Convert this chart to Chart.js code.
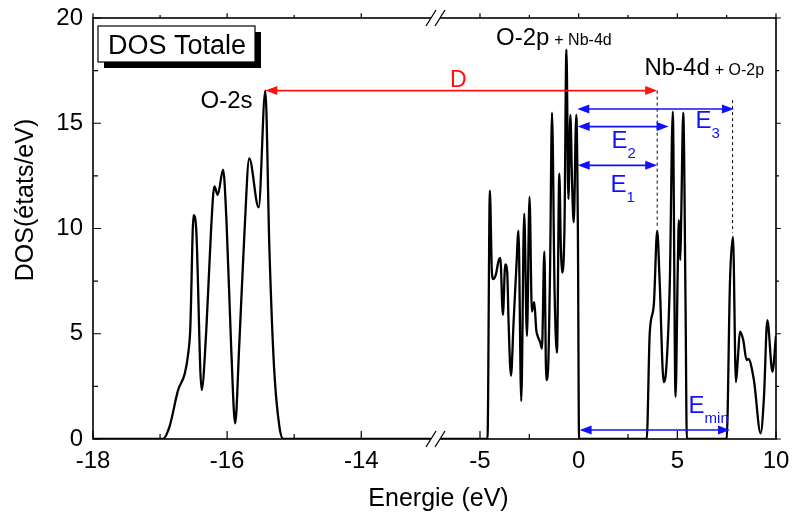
<!DOCTYPE html>
<html>
<head>
<meta charset="utf-8">
<script src="https://cdn.jsdelivr.net/npm/chart.js@4.4.0/dist/chart.umd.min.js"></script>
<style>
  html, body { margin: 0; padding: 0; background: #fff; }
  canvas { display: block; }
</style>
</head>
<body>
<canvas id="myChart" width="792" height="520"></canvas>
<script>
// O-2s band, left part of the broken energy axis
const energyLow = [-18, -16.96, -16.86, -16.73, -16.63, -16.58, -16.55, -16.5, -16.46, -16.38, -16.31, -16.24,
  -16.19, -16.14, -16.06, -16.01, -15.94, -15.88, -15.82, -15.74, -15.67, -15.53, -15.43, -15.37, -15.3, -15.22,
  -15.16, -12.9];
const dosLow = [0, 0, 0.58, 2.33, 3.12, 4.07, 5.2, 10.64, 9.9, 2.33, 5.2, 9.9,
  12.0, 11.6, 12.8, 10.4, 4.4, 0.74, 4.4, 9.9, 13.33, 11.0, 16.55, 9.1, 3.4, 0.58,
  0, 0];

// valence band (O-2p) and conduction bands (Nb-4d), right part
const energyHigh = [-7.28, -4.62, -4.5, -4.4, -4.33, -4.2, -4.05, -3.97, -3.84, -3.72, -3.62, -3.55, -3.43,
  -3.3, -3.15, -3.05, -2.91, -2.76, -2.62, -2.49, -2.37, -2.25, -2.15, -2.08, -1.95, -1.86, -1.74, -1.64,
  -1.55, -1.45, -1.35, -1.22, -1.1, -0.98, -0.9, -0.84, -0.72, -0.62, -0.52, -0.42, -0.33, -0.25, -0.12,
  -0.04, 0.02, 3.45, 3.6, 3.81, 3.98, 4.1, 4.31, 4.45, 4.62, 4.77, 4.91, 5.02, 5.08, 5.15, 5.2, 5.3, 5.42,
  5.48, 7.5, 7.67, 7.82, 7.97, 8.08, 8.17, 8.34, 8.51, 8.6, 8.88, 9.22, 9.39, 9.56, 9.82, 10];
const dosHigh = [0, 0, 11.8, 8.0, 7.6, 7.8, 8.5, 8.6, 5.9, 8.3, 7.9, 5.5, 3.0,
  5.5, 8.3, 9.9, 1.8, 10.7, 4.9, 11.5, 6.05, 6.5, 5.2, 4.9, 4.6, 4.3, 8.9, 2.8,
  3.3, 8.0, 15.5, 7.0, 4.1, 12.6, 9.0, 7.9, 10.0, 18.5, 11.4, 15.4, 12.0, 10.3, 15.4,
  10.0, 0, 0, 5.0, 6.4, 9.9, 7.6, 2.7, 3.5, 7.5, 15.55, 2.0, 8.0, 10.4, 8.5, 10.7, 15.5, 6.0,
  0, 0, 7.55, 9.6, 2.7, 4.0, 5.1, 4.7, 3.75, 3.8, 2.8, 0.27, 2.0, 5.65, 3.2, 4.9];

const ticksLow = [-18, -16, -14];
const ticksHigh = [-5, 0, 5, 10];
const ticksDos = [0, 5, 10, 15, 20];
const minorLow = [-17, -15];
const minorHigh = [-2.5, 2.5, 7.5];
const minorDos = [2.5, 7.5, 12.5, 17.5];

const FONT = "'Liberation Sans', Arial, sans-serif";
const BLUE = '#1010ff';
const RED = '#ff1010';

const toPoints = (xs, ys) => xs.map((x, i) => ({ x: x, y: ys[i] }));

const overlay = {
  id: 'overlay',
  afterDraw(chart) {
    const { ctx, chartArea: a, scales } = chart;
    const xl = scales.xl, xr = scales.xr, sy = scales.y;
    const L = v => xl.getPixelForValue(v);
    const R = v => xr.getPixelForValue(v);
    const Y = v => sy.getPixelForValue(v);
    ctx.save();

    // frame
    ctx.strokeStyle = '#000';
    ctx.lineWidth = 1.6;
    ctx.strokeRect(a.left, a.top, a.right - a.left, a.bottom - a.top);

    // ticks: inside on bottom/left, outside on top/right
    ctx.lineWidth = 1.2;
    ctx.beginPath();
    const xTick = (px, len) => {
      ctx.moveTo(px, a.bottom); ctx.lineTo(px, a.bottom - len);
      ctx.moveTo(px, a.top); ctx.lineTo(px, a.top - len * 0.6);
    };
    ticksLow.forEach(v => xTick(L(v), 8));
    minorLow.forEach(v => xTick(L(v), 5));
    ticksHigh.forEach(v => xTick(R(v), 8));
    minorHigh.forEach(v => xTick(R(v), 5));
    const yTick = (py, len) => {
      ctx.moveTo(a.left, py); ctx.lineTo(a.left + len, py);
      ctx.moveTo(a.right, py); ctx.lineTo(a.right + len * 0.6, py);
    };
    ticksDos.forEach(v => yTick(Y(v), 8));
    minorDos.forEach(v => yTick(Y(v), 5));
    ctx.stroke();

    // axis break marks
    const bx = xl.right;
    [a.top, a.bottom].forEach(yy => {
      ctx.fillStyle = '#fff';
      ctx.fillRect(bx - 4, yy - 3, 9, 6);
      ctx.strokeStyle = '#000';
      ctx.lineWidth = 1.3;
      ctx.beginPath();
      [bx - 4, bx + 5].forEach(c => { ctx.moveTo(c - 5, yy + 8); ctx.lineTo(c + 5, yy - 8); });
      ctx.stroke();
    });

    // legend box with shadow
    const bxl = a.left + 5, byt = a.top + 8;
    ctx.fillStyle = '#000';
    ctx.fillRect(bxl + 6, byt + 6, 157, 36);
    ctx.fillStyle = '#fff';
    ctx.fillRect(bxl, byt, 157, 36);
    ctx.lineWidth = 1.2;
    ctx.strokeRect(bxl, byt, 157, 36);
    ctx.fillStyle = '#000';
    ctx.font = '27px ' + FONT;
    ctx.textAlign = 'center';
    ctx.textBaseline = 'alphabetic';
    ctx.fillText('DOS Totale', bxl + 79, byt + 28);

    // arrows
    const head = (x, yy, dir) => {
      ctx.beginPath();
      ctx.moveTo(x, yy);
      ctx.lineTo(x - dir * 12, yy - 4.5);
      ctx.lineTo(x - dir * 12, yy + 4.5);
      ctx.closePath();
      ctx.fill();
    };
    const arrow = (x1, x2, yy, color) => {
      ctx.strokeStyle = color; ctx.fillStyle = color; ctx.lineWidth = 1.6;
      ctx.beginPath(); ctx.moveTo(x1 + 4, yy); ctx.lineTo(x2 - 4, yy); ctx.stroke();
      head(x1, yy, -1); head(x2, yy, 1);
    };

    // dashed guides
    ctx.strokeStyle = '#000';
    ctx.lineWidth = 1;
    ctx.setLineDash([3, 3]);
    ctx.beginPath();
    ctx.moveTo(R(3.98), Y(16.55)); ctx.lineTo(R(3.98), Y(10.1));
    ctx.moveTo(R(7.8), Y(16.1)); ctx.lineTo(R(7.8), Y(9.8));
    ctx.stroke();
    ctx.setLineDash([]);

    arrow(L(-15.43), R(3.98), Y(16.55), RED);
    arrow(R(-0.07), R(7.87), Y(15.68), BLUE);
    arrow(R(-0.05), R(4.56), Y(14.84), BLUE);
    arrow(R(-0.05), R(3.98), Y(13.0), BLUE);
    arrow(R(0.05), R(7.67), Y(0.43), BLUE);

    // texts
    const sub = (main, small, x, yy, color) => {
      ctx.fillStyle = color;
      ctx.textAlign = 'left';
      ctx.font = '24px ' + FONT;
      ctx.fillText(main, x, yy);
      const w = ctx.measureText(main).width;
      ctx.font = '15px ' + FONT;
      ctx.fillText(small, x + w, yy + 10);
    };
    sub('E', '1', R(1.61), Y(11.73), BLUE);
    sub('E', '2', R(1.66), Y(13.82), BLUE);
    sub('E', '3', R(5.92), Y(14.77), BLUE);
    sub('E', 'min', R(5.57), Y(1.24), BLUE);

    ctx.fillStyle = RED;
    ctx.font = '23px ' + FONT;
    ctx.textAlign = 'center';
    ctx.fillText('D', R(-6.1), Y(16.72));

    ctx.fillStyle = '#000';
    ctx.font = '24px ' + FONT;
    ctx.textAlign = 'right';
    ctx.fillText('O-2s', L(-15.62), Y(15.72));

    const pair = (big, small, x, yy) => {
      ctx.textAlign = 'left';
      ctx.font = '24px ' + FONT;
      ctx.fillText(big, x, yy);
      const w = ctx.measureText(big).width;
      ctx.font = '16px ' + FONT;
      ctx.fillText(small, x + w + 5, yy);
    };
    pair('O-2p', '+ Nb-4d', R(-4.19), Y(18.72));
    pair('Nb-4d', '+ O-2p', R(3.33), Y(17.29));

    // axis titles
    ctx.font = '25px ' + FONT;
    ctx.textAlign = 'center';
    ctx.fillText('Energie (eV)', (a.left + a.right) / 2 + 4, 506);
    ctx.translate(33, 200);
    ctx.rotate(-Math.PI / 2);
    ctx.fillText('DOS(états/eV)', 0, 0);

    ctx.restore();
  }
};

const tickFont = { family: FONT, size: 24 };
const xAxis = (min, max, weight, ticks) => ({
  type: 'linear',
  position: 'bottom',
  stack: 'energy',
  stackWeight: weight,
  min: min,
  max: max,
  grid: { display: false, drawTicks: false },
  border: { display: false },
  ticks: { color: '#000', font: tickFont, padding: 8, maxRotation: 0, autoSkip: false },
  afterBuildTicks: s => { s.ticks = ticks.map(v => ({ value: v })); },
  afterFit: s => { s.height = 81; s.paddingLeft = 0; s.paddingRight = 0; }
});

const ctx = document.getElementById('myChart').getContext('2d');

const myChart = new Chart(ctx, {
  type: 'line',
  data: {
    datasets: [
      {
        data: toPoints(energyLow, dosLow),
        xAxisID: 'xl',
        yAxisID: 'y',
        borderColor: '#000',
        borderWidth: 2.3,
        pointRadius: 0,
        cubicInterpolationMode: 'monotone'
      },
      {
        data: toPoints(energyHigh, dosHigh),
        xAxisID: 'xr',
        yAxisID: 'y',
        borderColor: '#000',
        borderWidth: 2.3,
        pointRadius: 0,
        cubicInterpolationMode: 'monotone'
      }
    ]
  },
  options: {
    responsive: false,
    animation: false,
    layout: { padding: { left: 0, right: 16, top: 18, bottom: 0 } },
    plugins: { legend: { display: false }, tooltip: { enabled: false } },
    scales: {
      xl: xAxis(-18, -12.9, 341, ticksLow),
      xr: xAxis(-7.28, 10, 340, ticksHigh),
      y: {
        position: 'left',
        min: 0,
        max: 20,
        grid: { display: false, drawTicks: false },
        border: { display: false },
        ticks: { color: '#000', font: tickFont, padding: 10 },
        afterBuildTicks: s => { s.ticks = ticksDos.map(v => ({ value: v })); },
        afterFit: s => { s.width = 93; s.paddingTop = 0; s.paddingBottom = 0; }
      }
    }
  },
  plugins: [overlay]
});
</script>
</body>
</html>
